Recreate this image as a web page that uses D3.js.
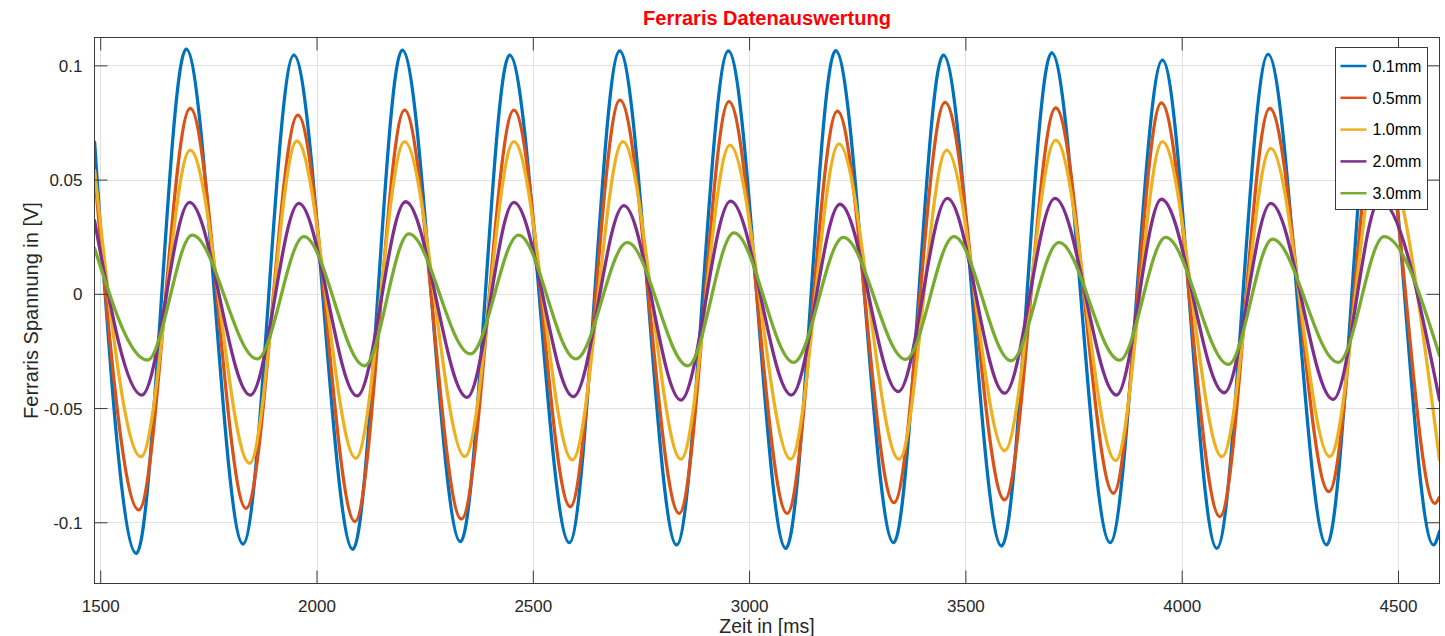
<!DOCTYPE html>
<html>
<head>
<meta charset="utf-8">
<script src="https://cdn.jsdelivr.net/npm/d3@7"></script>
<style>
  body { margin: 0; background: #fff; }
  svg text { font-family: "Liberation Sans", Arial, Helvetica, sans-serif; }
</style>
</head>
<body>
<svg id="chart" width="1445" height="636"></svg>
<script>
// Sensor distances and MATLAB default line colours
const seriesNames  = ["0.1mm", "0.5mm", "1.0mm", "2.0mm", "3.0mm"];
const seriesColors = ["#0072BD", "#D95319", "#EDB120", "#7E2F8E", "#77AC30"];

// Turning points of each measured signal: time [ms] and voltage [V]
const time01 = [1487, 1583.5, 1698.8, 1830.2, 1947.6, 2084, 2198.3, 2332.8, 2446.4, 2584.6, 2700.7, 2832.5, 2952, 3085, 3200.1, 3334, 3449.1, 3583.7, 3699.5, 3834.6, 3955.5, 4081.3, 4199.7, 4335.1, 4450, 4582, 4596];
const volt01 = [0.0664, -0.1136, 0.1071, -0.1095, 0.1045, -0.1118, 0.1067, -0.1085, 0.1045, -0.1089, 0.1063, -0.1099, 0.1063, -0.1114, 0.1064, -0.1089, 0.1045, -0.1104, 0.1055, -0.1089, 0.1023, -0.1114, 0.1048, -0.1099, 0.105, -0.1099, -0.104];

const time05 = [1487, 1589.2, 1708.1, 1837.1, 1956.9, 2088.9, 2203.6, 2334.9, 2456.3, 2586.7, 2701.4, 2838.5, 2953.4, 3088, 3204.1, 3334.9, 3452.9, 3590.6, 3708.8, 3842.4, 3953, 4088.4, 4203.6, 4340.3, 4455, 4585, 4596];
const volt05 = [0.053, -0.0946, 0.0812, -0.0939, 0.0782, -0.0997, 0.0804, -0.0986, 0.0804, -0.0932, 0.0848, -0.0961, 0.0841, -0.0961, 0.0800, -0.0914, 0.0838, -0.0902, 0.0814, -0.0873, 0.0836, -0.0975, 0.0812, -0.0866, 0.082, -0.0917, -0.089];

const time10 = [1487, 1594.3, 1708.1, 1845.2, 1954.6, 2091, 2203.6, 2342.8, 2456.3, 2591.6, 2708.3, 2842.4, 2955.7, 3096, 3207.8, 3346.7, 3456.8, 3590.6, 3708.8, 3847.5, 3955.5, 4093.3, 4205.9, 4342.3, 4458, 4596];
const volt10 = [0.054, -0.0713, 0.0629, -0.0742, 0.0669, -0.0720, 0.0666, -0.0713, 0.0666, -0.0727, 0.0666, -0.0724, 0.0651, -0.0724, 0.0656, -0.0724, 0.0629, -0.0687, 0.0673, -0.0730, 0.0666, -0.0713, 0.0637, -0.0713, 0.065, -0.0727];

const time20 = [1487, 1596.4, 1706.5, 1847, 1959.2, 2094, 2205.9, 2347.9, 2456.3, 2593.6, 2710.6, 2842.4, 2957.3, 3098, 3210.1, 3344.9, 3458.4, 3590.6, 3707.2, 3849.4, 3953.2, 4098.4, 4205.9, 4350.2, 4458, 4596];
const volt20 = [0.032, -0.0443, 0.0400, -0.0443, 0.0396, -0.0447, 0.0403, -0.0453, 0.0400, -0.0450, 0.0386, -0.0465, 0.0406, -0.0443, 0.0392, -0.0428, 0.0418, -0.0435, 0.0418, -0.0443, 0.0414, -0.0433, 0.0396, -0.0462, 0.041, -0.0465];

const time30 = [1487, 1609.4, 1712.7, 1863, 1970.8, 2111.1, 2213.5, 2355.7, 2467.2, 2599.7, 2718.5, 2858.4, 2965, 3103, 3217.9, 3361.7, 3473.6, 3605.6, 3716.4, 3856.5, 3963.1, 4108.3, 4209.9, 4362, 4467.8, 4596];
const volt30 = [0.020, -0.0290, 0.0257, -0.0285, 0.0250, -0.0315, 0.0262, -0.0263, 0.0257, -0.0285, 0.0225, -0.0315, 0.0267, -0.0300, 0.0247, -0.0287, 0.0250, -0.0293, 0.0225, -0.0290, 0.0247, -0.0309, 0.0239, -0.0300, 0.0250, -0.027];

const xTicks = [1500, 2000, 2500, 3000, 3500, 4000, 4500];
const yTicks = [-0.1, -0.05, 0, 0.05, 0.1];
const yTickLabels = ["-0.1", "-0.05", "0", "0.05", "0.1"];

const titleText = "Ferraris Datenauswertung";
const xLabelText = "Zeit in [ms]";
const yLabelText = "Ferraris Spannung in [V]";

const series = [
  { name: seriesNames[0], color: seriesColors[0], t: time01, v: volt01 },
  { name: seriesNames[1], color: seriesColors[1], t: time05, v: volt05 },
  { name: seriesNames[2], color: seriesColors[2], t: time10, v: volt10 },
  { name: seriesNames[3], color: seriesColors[3], t: time20, v: volt20 },
  { name: seriesNames[4], color: seriesColors[4], t: time30, v: volt30 }
];

// Axes box
const box = { left: 94.5, right: 1439.5, top: 37.5, bottom: 583.5 };
const tickLen = 13;
const textColor = "#262626";
const axisColor = "#3a3a3a";

const x = d3.scaleLinear().domain([1486.8, 4596]).range([box.left, box.right]);
const y = d3.scaleLinear().domain([-0.1268, 0.1122]).range([box.bottom, box.top]);

const svg = d3.select("#chart");

svg.append("defs").append("clipPath").attr("id", "plotClip")
  .append("rect")
  .attr("x", box.left).attr("y", box.top)
  .attr("width", box.right - box.left).attr("height", box.bottom - box.top);

// Grid
const grid = svg.append("g").attr("class", "grid");
grid.selectAll("line.gx").data(xTicks).join("line")
  .attr("class", "gx")
  .attr("x1", d => Math.round(x(d)) + 0.5).attr("x2", d => Math.round(x(d)) + 0.5)
  .attr("y1", box.top).attr("y2", box.bottom)
  .attr("stroke", "#e1e1e1").attr("stroke-width", 1);
grid.selectAll("line.gy").data(yTicks).join("line")
  .attr("class", "gy")
  .attr("y1", d => Math.round(y(d)) + 0.5).attr("y2", d => Math.round(y(d)) + 0.5)
  .attr("x1", box.left).attr("x2", box.right)
  .attr("stroke", "#e1e1e1").attr("stroke-width", 1);

// Signal traces
const line = d3.line()
  .x(d => x(d[0]))
  .y(d => y(d[1]))
  .curve(d3.curveMonotoneX);

svg.append("g").attr("clip-path", "url(#plotClip)")
  .selectAll("path").data(series).join("path")
  .attr("d", s => line(s.t.map((t, i) => [t, s.v[i]])))
  .attr("fill", "none")
  .attr("stroke", s => s.color)
  .attr("stroke-width", 3.3)
  .attr("stroke-linejoin", "round")
  .attr("stroke-linecap", "round");

// Axes: box outline with inward ticks on all four sides
const axes = svg.append("g").attr("class", "axes");
axes.append("rect")
  .attr("x", box.left).attr("y", box.top)
  .attr("width", box.right - box.left).attr("height", box.bottom - box.top)
  .attr("fill", "none").attr("stroke", axisColor).attr("stroke-width", 1);

const bottomAxis = d3.axisBottom(x).tickValues(xTicks).tickSize(-tickLen).tickPadding(25.5).tickFormat(d3.format("d"));
const topAxis = d3.axisTop(x).tickValues(xTicks).tickSize(-tickLen).tickFormat("");
const leftAxis = d3.axisLeft(y).tickValues(yTicks).tickSize(-tickLen).tickPadding(12)
  .tickFormat((d, i) => yTickLabels[i]);
const rightAxis = d3.axisRight(y).tickValues(yTicks).tickSize(-tickLen).tickFormat("");

function styleAxis(g) {
  g.select(".domain").remove();
  g.selectAll(".tick line").attr("stroke", axisColor).attr("stroke-width", 1);
  g.selectAll(".tick text").attr("fill", textColor).attr("font-size", 17)
    .attr("font-family", "'Liberation Sans', Arial, Helvetica, sans-serif");
}

axes.append("g").attr("transform", `translate(0,${box.bottom})`).call(bottomAxis).call(styleAxis)
  .selectAll(".tick text").attr("dy", "0.16em");
axes.append("g").attr("transform", `translate(0,${box.top})`).call(topAxis).call(styleAxis);
axes.append("g").attr("transform", `translate(${box.left},0)`).call(leftAxis).call(styleAxis)
  .selectAll(".tick text").attr("dy", "0.36em");
axes.append("g").attr("transform", `translate(${box.right},0)`).call(rightAxis).call(styleAxis);

// Title and axis labels
svg.append("text")
  .attr("x", (box.left + box.right) / 2).attr("y", 25)
  .attr("text-anchor", "middle")
  .attr("font-size", 20).attr("font-weight", "bold")
  .attr("fill", "#ff0000")
  .text(titleText);

svg.append("text")
  .attr("x", (box.left + box.right) / 2).attr("y", 633)
  .attr("text-anchor", "middle")
  .attr("font-size", 19.5)
  .attr("fill", textColor)
  .text(xLabelText);

svg.append("text")
  .attr("transform", `translate(38,${(box.top + box.bottom) / 2}) rotate(-90)`)
  .attr("text-anchor", "middle")
  .attr("font-size", 20)
  .attr("fill", textColor)
  .text(yLabelText);

// Legend
const legend = { x: 1335.5, y: 47.5, w: 92, h: 162, rowTop: 66, rowGap: 31.8 };
const lg = svg.append("g").attr("class", "legend");
lg.append("rect")
  .attr("x", legend.x).attr("y", legend.y)
  .attr("width", legend.w).attr("height", legend.h)
  .attr("fill", "#fff").attr("stroke", axisColor).attr("stroke-width", 1);
const rows = lg.selectAll("g.row").data(series).join("g")
  .attr("class", "row")
  .attr("transform", (d, i) => `translate(0,${legend.rowTop + i * legend.rowGap})`);
rows.append("line")
  .attr("x1", legend.x + 5).attr("x2", legend.x + 31)
  .attr("y1", 0).attr("y2", 0)
  .attr("stroke", d => d.color).attr("stroke-width", 2.5);
rows.append("text")
  .attr("x", legend.x + 37).attr("y", 0).attr("dy", "0.36em")
  .attr("font-size", 16).attr("fill", "#000")
  .text(d => d.name);
</script>
</body>
</html>
